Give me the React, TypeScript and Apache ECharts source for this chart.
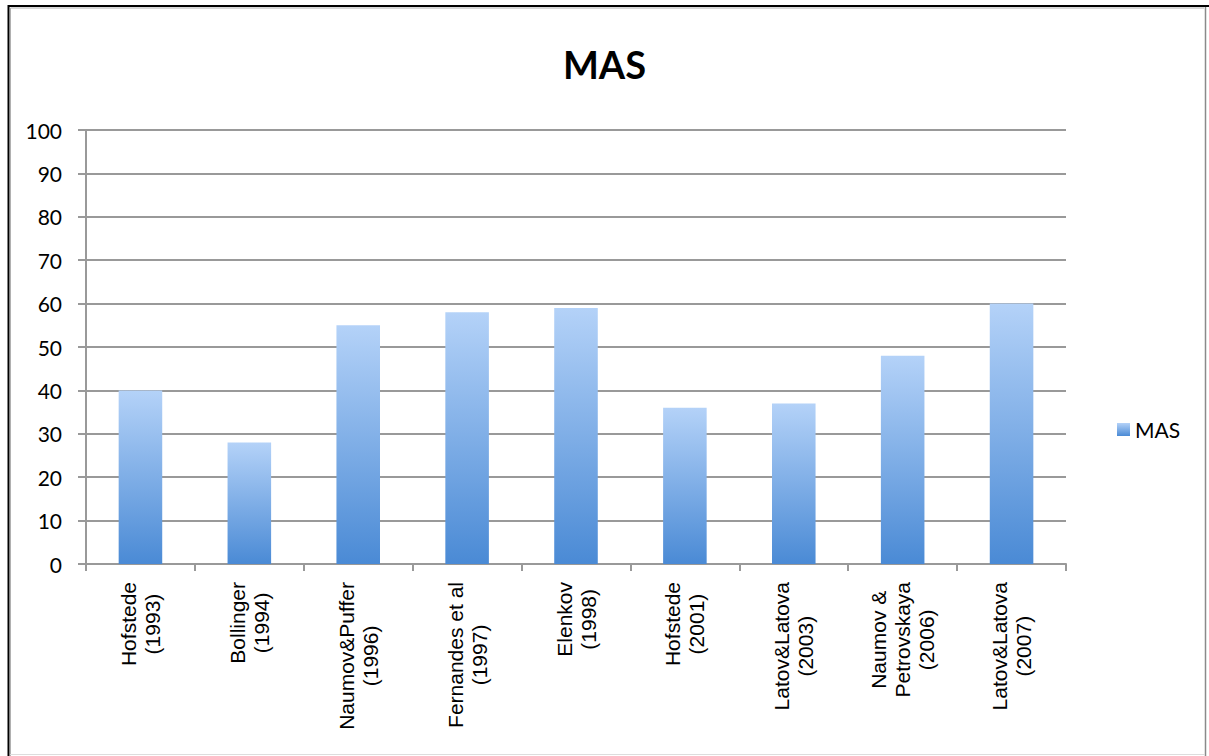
import React, { useEffect, useRef } from "react";
import * as echarts from "echarts";

const categories: string[] = [
  "Hofstede\n(1993)",
  "Bollinger\n(1994)",
  "Naumov&Puffer\n(1996)",
  "Fernandes et al\n(1997)",
  "Elenkov\n(1998)",
  "Hofstede\n(2001)",
  "Latov&Latova\n(2003)",
  "Naumov &\nPetrovskaya\n(2006)",
  "Latov&Latova\n(2007)",
];
const masValues: number[] = [40, 28, 55, 58, 59, 36, 37, 48, 60];
const seriesName = "MAS";
const chartTitle = "MAS";

export default function App() {
  const ref = useRef<HTMLDivElement>(null);
  useEffect(() => {
    if (!ref.current) return;
    const chart = echarts.init(ref.current, null, { renderer: "svg" });
    const gradient = new echarts.graphic.LinearGradient(0, 0, 0, 1, [
      { offset: 0, color: "#b4d2f8" },
      { offset: 1, color: "#4a8ad5" },
    ]);
    chart.setOption({
      animation: false,
      backgroundColor: "#ffffff",
      title: {
        text: chartTitle,
        left: "center",
        top: 40,
        textStyle: { fontFamily: "Lato", fontWeight: "bold", fontSize: 38, color: "#000" },
      },
      legend: {
        data: [seriesName],
        left: 1112,
        top: 414,
        icon: "rect",
        itemWidth: 13,
        itemHeight: 13,
        textStyle: { fontFamily: "Lato", fontSize: 21, color: "#000" },
      },
      grid: { left: 86, top: 130, right: 143, bottom: 192, containLabel: false },
      xAxis: {
        type: "category",
        data: categories,
        boundaryGap: true,
        axisLine: { show: true, lineStyle: { color: "#999999", width: 2 } },
        axisTick: { show: true, length: 7, alignWithLabel: false, lineStyle: { color: "#999999", width: 2 } },
        axisLabel: {
          interval: 0,
          rotate: 90,
          margin: 18,
          fontFamily: "Liberation Sans",
          fontSize: 21,
          lineHeight: 24,
          color: "#000",
          formatter: (v: string) => v.split("\n").map((l) => `{c|${l}}`).join("\n"),
          rich: { c: { align: "center", fontFamily: "Liberation Sans", fontSize: 21, lineHeight: 24, color: "#000" } },
        },
        splitLine: { show: false },
      },
      yAxis: {
        type: "value",
        min: 0,
        max: 100,
        interval: 10,
        axisLine: { show: true, lineStyle: { color: "#999999", width: 2 } },
        axisTick: { show: true, length: 8, lineStyle: { color: "#999999", width: 2 } },
        axisLabel: { margin: 24, fontFamily: "Lato", fontSize: 21, color: "#000" },
        splitLine: { show: true, lineStyle: { color: "#999999", width: 2 } },
      },
      series: [
        {
          name: seriesName,
          type: "bar",
          data: masValues,
          barWidth: "40%",
          itemStyle: { color: gradient },
        },
      ],
      graphic: [
        { type: "line", shape: { x1: 8, y1: 6, x2: 1209, y2: 6 }, style: { stroke: "#000", lineWidth: 2 } },
        { type: "line", shape: { x1: 8.5, y1: 5, x2: 8.5, y2: 756 }, style: { stroke: "#000", lineWidth: 2 } },
        { type: "line", shape: { x1: 10.5, y1: 8, x2: 1204, y2: 8 }, style: { stroke: "#b0b0b0", lineWidth: 1 } },
        { type: "line", shape: { x1: 10.5, y1: 8, x2: 10.5, y2: 756 }, style: { stroke: "#b0b0b0", lineWidth: 1 } },
        { type: "line", shape: { x1: 1205.5, y1: 7, x2: 1205.5, y2: 756 }, style: { stroke: "#8a8a8a", lineWidth: 1.5 } },
        { type: "line", shape: { x1: 10, y1: 754.5, x2: 1205, y2: 754.5 }, style: { stroke: "#dddddd", lineWidth: 1 } },
      ],
    });
    return () => chart.dispose();
  }, []);
  return (
    <div
      ref={ref}
      style={{ position: "fixed", left: 0, top: 0, width: 1209, height: 756 }}
    />
  );
}
